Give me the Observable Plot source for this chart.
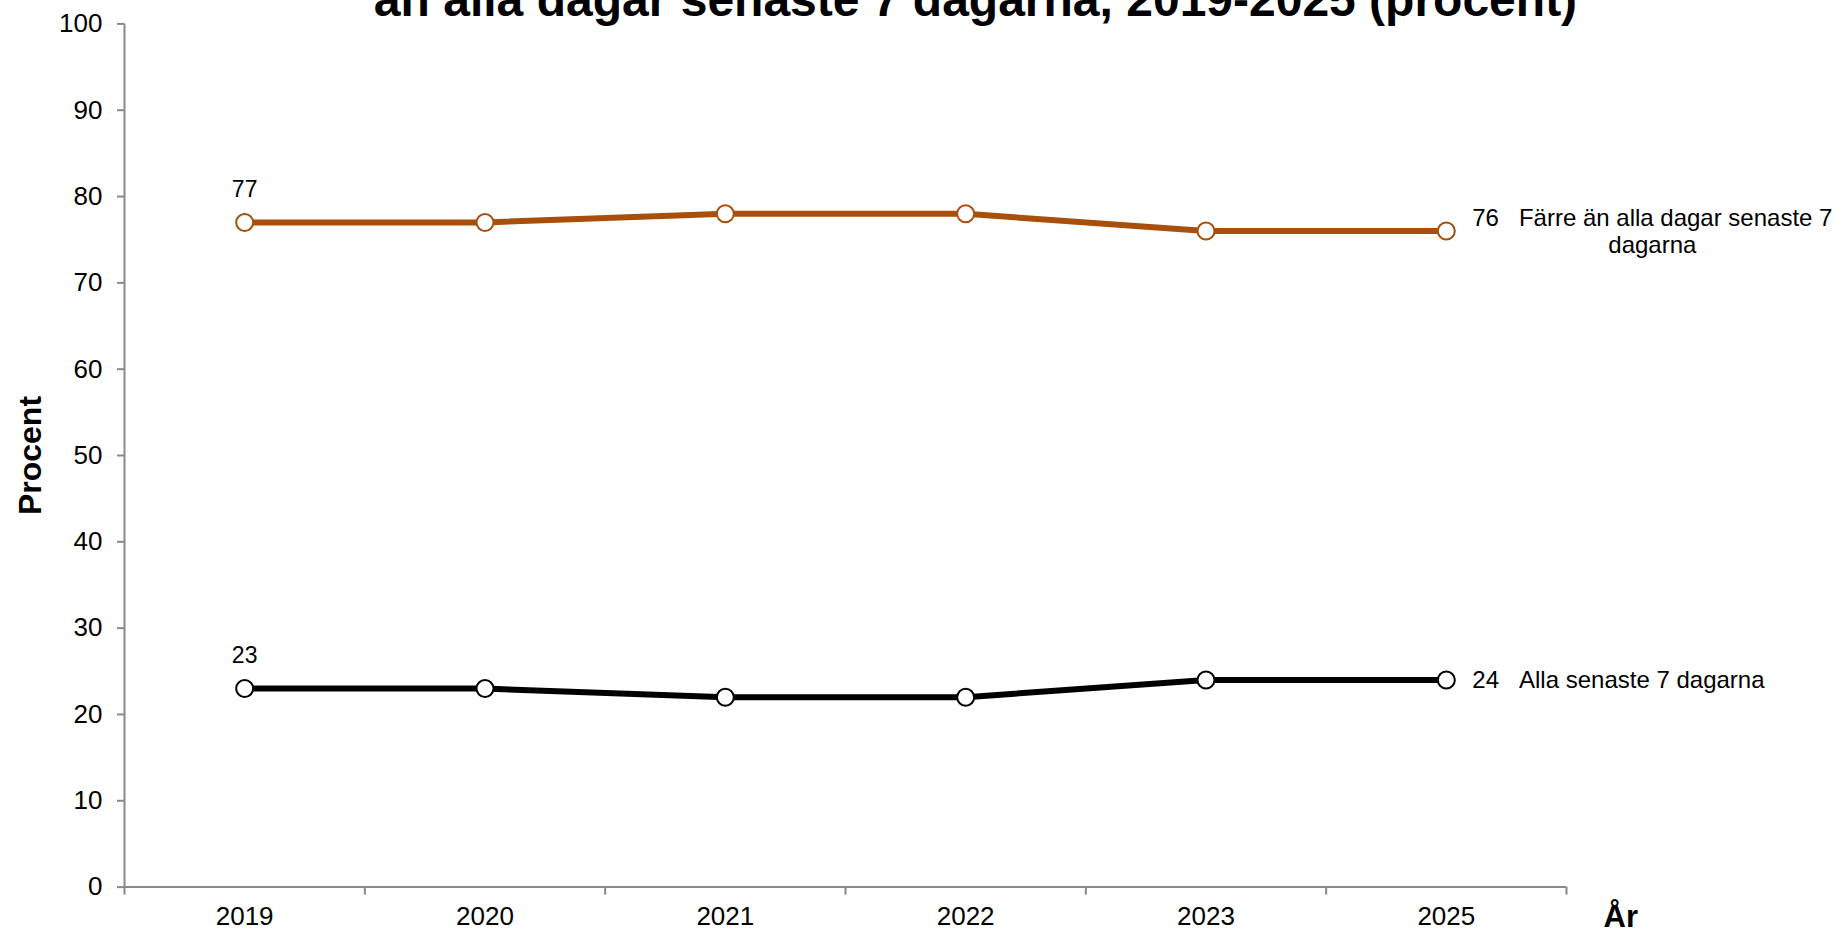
<!DOCTYPE html>
<html>
<head>
<meta charset="utf-8">
<script src="https://cdn.jsdelivr.net/npm/d3@7"></script>
<script src="https://cdn.jsdelivr.net/npm/@observablehq/plot@0.6"></script>
<style>
  html, body { margin: 0; padding: 0; background: #fff; overflow: hidden; }
  #wrap { position: relative; width: 1834px; height: 930px; }
  #title {
    position: absolute; left: 975.5px; top: -24.5px; transform: translateX(-50%);
    font-family: "Liberation Sans", Arial, sans-serif; font-weight: bold;
    font-size: 48px; line-height: 48px; white-space: nowrap; color: #000;
  }
  #chart { position: absolute; left: 0; top: 0; }
</style>
</head>
<body>
<div id="wrap">
  <div id="chart"></div>
  <div id="title">än alla dagar senaste 7 dagarna, 2019-2025 (procent)</div>
</div>
<script>
const years = ["2019", "2020", "2021", "2022", "2023", "2025"];
const farreValues = [77, 77, 78, 78, 76, 76];
const allaValues = [23, 23, 22, 22, 24, 24];
const seriesNames = ["Färre än alla dagar senaste 7\ndagarna", "Alla senaste 7 dagarna"];
const yTicks = [0, 10, 20, 30, 40, 50, 60, 70, 80, 90, 100];

const orange = "#A84F0C";
const black = "#000000";
const axisGrey = "#898989";
const font = "'Liberation Sans', Arial, sans-serif";

const farre = farreValues.map((v, i) => ({i, v}));
const alla = allaValues.map((v, i) => ({i, v}));
const lastI = years.length - 1;
const boundaries = d3.range(-0.5, years.length, 1);

const chart = Plot.plot({
  width: 1834,
  height: 930,
  marginLeft: 124,
  marginRight: 268,
  marginTop: 23.4,
  marginBottom: 43.4,
  style: {fontFamily: font, background: "#fff", color: "#000"},
  x: {type: "linear", domain: [-0.5, lastI + 0.5]},
  y: {domain: [0, 100]},
  marks: [
    // axes
    Plot.axisY({ticks: yTicks, tickSize: 7, tickPadding: 15, fontSize: 26, stroke: axisGrey, strokeWidth: 2, fill: "#000", label: null}),
    Plot.axisX({ticks: boundaries, tickSize: 8, tickFormat: () => "", stroke: axisGrey, strokeWidth: 2, label: null}),
    Plot.axisX({ticks: d3.range(years.length), tickSize: 0, tickPadding: 19, tickFormat: i => years[i], fontSize: 26, fill: "#000", label: null}),
    Plot.ruleX([-0.5], {y1: 0, y2: 100, stroke: axisGrey, strokeWidth: 2}),
    Plot.ruleY([0], {stroke: axisGrey, strokeWidth: 2}),
    // series
    Plot.line(farre, {x: "i", y: "v", stroke: orange, strokeWidth: 6}),
    Plot.line(alla, {x: "i", y: "v", stroke: black, strokeWidth: 6}),
    Plot.dot(farre, {x: "i", y: "v", r: 8.5, fill: "#fff", stroke: orange, strokeWidth: 2}),
    Plot.dot(alla, {x: "i", y: "v", r: 8.5, fill: "#fff", stroke: black, strokeWidth: 2}),
    // first-point value labels
    Plot.text([farre[0]], {x: "i", y: "v", text: d => String(d.v), dy: -33, fontSize: 23, fill: "#000"}),
    Plot.text([alla[0]], {x: "i", y: "v", text: d => String(d.v), dy: -33, fontSize: 23, fill: "#000"}),
    // end labels
    Plot.text([farre[lastI]], {x: "i", y: "v", text: d => d.v + "\u00a0\u00a0\u00a0" + seriesNames[0], textAnchor: "middle", dx: 206, lineHeight: 1.1, fontSize: 24, fill: "#000"}),
    Plot.text([alla[lastI]], {x: "i", y: "v", text: d => d.v + "\u00a0\u00a0\u00a0" + seriesNames[1], textAnchor: "start", dx: 26, fontSize: 24, fill: "#000"}),
    // axis titles
    Plot.text(["Procent"], {frameAnchor: "left", text: d => d, rotate: -90, textAnchor: "middle", dx: -94, fontSize: 32, fontWeight: "bold", fill: "#000"}),
    Plot.text(["År"], {x: () => lastI + 0.5, y: () => 0, text: d => d, textAnchor: "start", dx: 37, dy: 30, fontSize: 31, fontWeight: "bold", fill: "#000"})
  ]
});
document.getElementById("chart").appendChild(chart);
</script>
</body>
</html>
